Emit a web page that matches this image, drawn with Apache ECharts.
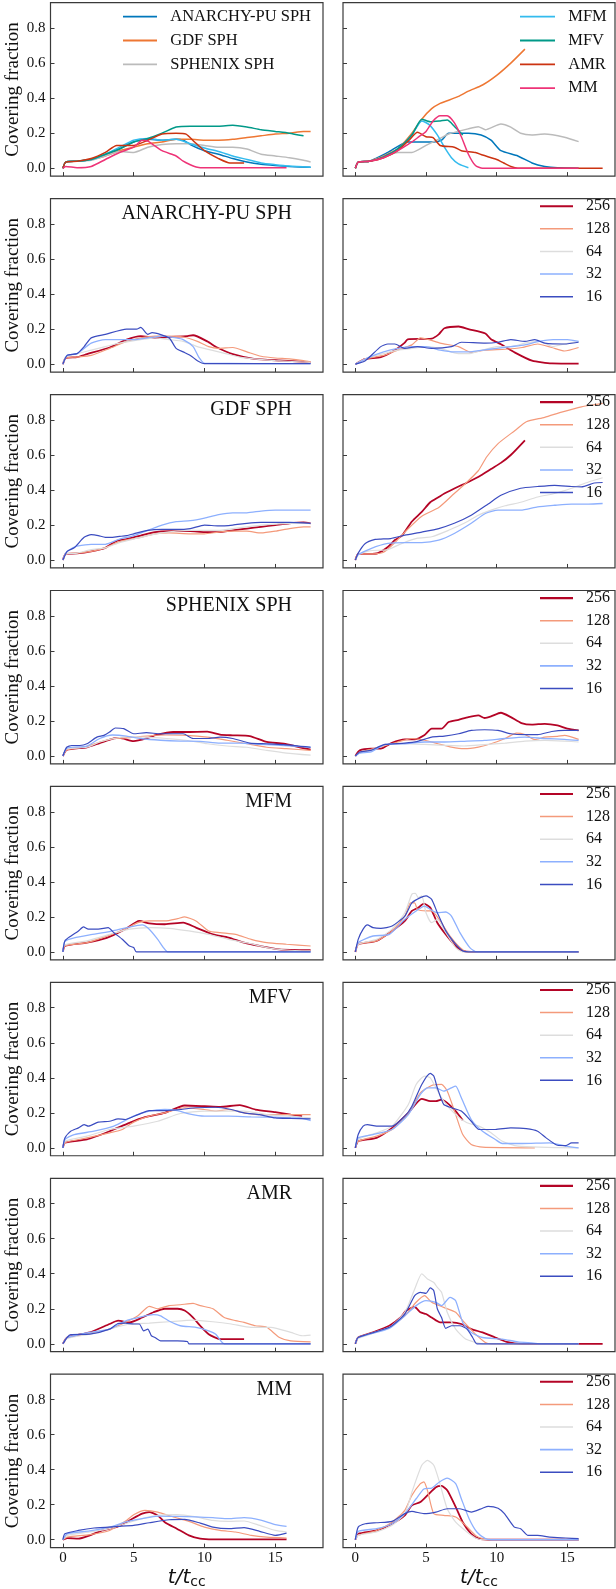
<!DOCTYPE html>
<html>
<head>
<meta charset="utf-8">
<script src="https://cdn.jsdelivr.net/npm/echarts@6/dist/echarts.min.js"></script>
<style>
  html, body { margin: 0; padding: 0; background: #fff; }
  #chart { width: 616px; height: 1589px; }
</style>
</head>
<body>
<div id="chart"></div>
<script>
// ---- labels / ticks ----
const methods = ['ANARCHY-PU SPH', 'GDF SPH', 'SPHENIX SPH', 'MFM', 'MFV', 'AMR', 'MM'];
const methodColors = ['#0077BB', '#EE7733', '#BBBBBB', '#33BBEE', '#009988', '#CC3311', '#EE3377'];
const resolutions = ['256', '128', '64', '32', '16'];
const resColors = ['#B40426', '#F49A7B', '#DDDDDD', '#8DB0FE', '#3B4CC0'];
const resWidths = [1.8, 1.2, 1.2, 1.3, 1.2];
const xTicks = [0, 5, 10, 15];
const yTicks = [0, 0.2, 0.4, 0.6, 0.8];

// ---- top row: all methods, highest resolution ----
const topL = [
  [[0,0],[0.2,0.035],[1,0.04],[2,0.05],[3,0.075],[4,0.11],[5,0.15],[6,0.165],[7,0.16],[8,0.165],[8.5,0.16],[9,0.135],[10,0.1],[11,0.08],[12,0.055],[13,0.035],[14,0.022],[15,0.015],[16,0.01],[17.5,0.005]],
  [[0,0],[0.2,0.035],[1,0.04],[2,0.05],[3,0.07],[4,0.1],[5,0.12],[6,0.14],[7,0.15],[8,0.165],[9,0.165],[10,0.16],[11,0.16],[12,0.165],[13,0.175],[14,0.185],[15,0.195],[16,0.2],[17,0.21],[17.5,0.21]],
  [[0,0],[0.2,0.035],[1,0.04],[2,0.045],[3,0.07],[4,0.095],[5,0.09],[6,0.12],[7,0.135],[8,0.14],[9,0.14],[10,0.13],[11,0.12],[12,0.12],[13,0.11],[14,0.08],[15,0.07],[16,0.06],[17,0.045],[17.5,0.035]],
  [[0,0],[0.2,0.035],[1,0.04],[2,0.05],[3,0.08],[4,0.12],[5,0.16],[6,0.17],[7,0.16],[8,0.165],[9,0.14],[10,0.115],[11,0.095],[12,0.07],[13,0.05],[14,0.03],[15,0.02],[16,0.012],[17.5,0.005]],
  [[0,0],[0.2,0.035],[1,0.04],[2,0.05],[3,0.08],[4,0.11],[5,0.15],[6,0.17],[7,0.2],[8,0.235],[9,0.24],[10,0.24],[11,0.24],[12,0.245],[13,0.235],[14,0.22],[15,0.21],[16,0.2],[17,0.185]],
  [[0,0],[0.2,0.035],[1,0.04],[2,0.055],[3,0.09],[3.8,0.13],[5,0.13],[6,0.16],[7,0.195],[8,0.2],[8.7,0.195],[9.3,0.15],[10,0.1],[11,0.055],[11.8,0.03],[12.8,0.03]],
  [[0,0],[0.2,0.01],[1,0.003],[2,0.01],[3,0.05],[4,0.09],[5,0.12],[5.6,0.16],[6,0.155],[7,0.1],[8,0.07],[8.5,0.04],[9,0.02],[9.5,0.005],[10,0.002],[15.8,0.002]]
];
const topR = [
  [[0,0],[0.2,0.035],[1,0.04],[2.3,0.09],[3.7,0.15],[4.7,0.15],[5.5,0.15],[6.1,0.16],[6.6,0.2],[8,0.2],[8.9,0.19],[9.6,0.16],[10.3,0.1],[11.5,0.07],[12.5,0.03],[13.4,0.01],[14.3,0.002],[15.8,0]],
  [[0,0],[0.2,0.035],[1,0.04],[2,0.07],[3,0.11],[4,0.2],[4.7,0.28],[5.4,0.34],[6,0.37],[6.5,0.385],[7.3,0.41],[8,0.44],[9,0.475],[10,0.53],[11,0.6],[12,0.68]],
  [[0,0],[0.2,0.035],[1,0.04],[2,0.065],[3,0.09],[4,0.09],[5,0.13],[6,0.17],[6.6,0.195],[8,0.225],[8.7,0.237],[9.2,0.22],[10.3,0.253],[11,0.235],[11.7,0.2],[12.5,0.19],[13.4,0.195],[14.8,0.177],[15.8,0.152]],
  [[0,0],[0.2,0.035],[1,0.04],[2,0.065],[3,0.11],[4,0.19],[4.7,0.27],[5.2,0.25],[5.8,0.19],[6.3,0.12],[6.8,0.06],[7.3,0.025],[8,0.003]],
  [[0,0],[0.2,0.035],[1,0.04],[2,0.065],[3,0.11],[4,0.19],[4.7,0.28],[5.3,0.265],[6,0.27],[6.5,0.275],[7,0.24],[7.6,0.19]],
  [[0,0],[0.2,0.035],[1,0.04],[2,0.06],[3,0.1],[3.8,0.16],[4.4,0.205],[5,0.18],[5.5,0.175],[6,0.13],[7,0.12],[7.5,0.1],[8.5,0.09],[9,0.075],[10,0.05],[10.5,0.03],[11,0.01],[11.5,0],[17.5,0]],
  [[0,0],[0.2,0.035],[1,0.04],[2,0.06],[3,0.1],[4,0.15],[4.5,0.18],[5,0.21],[5.5,0.27],[6,0.3],[6.5,0.3],[7,0.26],[7.5,0.18],[8,0.08],[8.5,0.015],[9,0],[15.8,0]]
];

// ---- per method: resolutions 256, 128, 64, 32, 16 ----
const anarchyL = [
  [[0,0],[0.2,0.035],[1,0.04],[1.7,0.057],[3.3,0.095],[4.5,0.14],[5.5,0.16],[6.6,0.15],[7.5,0.155],[8.8,0.16],[9.2,0.165],[10.2,0.13],[10.9,0.095],[12,0.057],[13.5,0.03],[15.6,0.02],[17.5,0.01]],
  [[0,0],[0.2,0.035],[1,0.04],[2,0.05],[3.3,0.09],[4.5,0.13],[5.5,0.15],[6.5,0.16],[7.5,0.16],[8.5,0.155],[9.5,0.13],[10.3,0.1],[11,0.09],[12,0.095],[13,0.07],[14,0.045],[15,0.035],[16,0.03],[17,0.02],[17.5,0.012]],
  [[0,0],[0.2,0.04],[1,0.06],[2,0.08],[3,0.1],[4,0.12],[5.5,0.14],[6.5,0.15],[7.5,0.14],[8.5,0.13],[9.5,0.1],[10.5,0.08],[11.5,0.06],[12.5,0.04],[13.5,0.03],[15,0.02],[17.5,0.01]],
  [[0,0],[0.3,0.05],[1,0.06],[2,0.12],[3,0.14],[4,0.14],[5,0.14],[6,0.15],[7,0.16],[8,0.15],[8.5,0.14],[9.2,0.1],[9.6,0.04],[10,0.005],[17.5,0.003]],
  [[0,0],[0.3,0.05],[1,0.06],[1.5,0.1],[2,0.15],[3,0.17],[4.5,0.2],[5.2,0.2],[5.5,0.21],[6,0.17],[6.3,0.18],[7.5,0.15],[8,0.09],[8.5,0.07],[9,0.05],[9.5,0.02],[10,0.003],[17.5,0.003]]
];
const anarchyR = [
  [[0,0],[0.7,0.03],[1.8,0.04],[2.7,0.075],[3.5,0.123],[3.7,0.142],[5.4,0.146],[5.9,0.17],[6.3,0.205],[7.3,0.215],[8,0.2],[9.2,0.175],[9.6,0.142],[10.3,0.114],[11.3,0.066],[12.5,0.02],[13.9,0.004],[15.8,0.003]],
  [[0,0],[0.7,0.03],[2,0.05],[3,0.08],[4,0.11],[4.6,0.15],[5.2,0.14],[6,0.12],[7.3,0.1],[8.2,0.067],[9.2,0.08],[10.6,0.085],[11.8,0.095],[12.9,0.115],[13.9,0.095],[14.8,0.075],[15.8,0.095]],
  [[0,0],[1,0.04],[2,0.06],[3,0.08],[4,0.09],[5,0.1],[6,0.09],[7.3,0.06],[8,0.06],[9,0.08],[10,0.1],[11,0.1],[12,0.12],[13,0.13],[14,0.1],[14.5,0.11],[15.8,0.13]],
  [[0,0],[1,0.04],[2,0.07],[3,0.09],[4,0.1],[5,0.1],[6,0.08],[7,0.07],[8,0.07],[9,0.08],[10,0.09],[11,0.1],[12,0.11],[13,0.13],[14,0.14],[15,0.14],[15.8,0.13]],
  [[0,0],[0.7,0.02],[1.8,0.1],[2.3,0.115],[2.8,0.115],[3.5,0.09],[4.4,0.1],[5.4,0.09],[6.8,0.1],[7.5,0.125],[9.2,0.12],[10.1,0.125],[11,0.14],[12,0.13],[12.7,0.14],[13.4,0.12],[14.8,0.115],[15.8,0.125]]
];
const gdfL = [
  [[0,0],[0.2,0.035],[1,0.038],[2,0.05],[3,0.07],[3.8,0.11],[4.5,0.12],[5.5,0.14],[6.5,0.16],[7.5,0.165],[9,0.165],[10,0.16],[11,0.16],[12,0.17],[13,0.18],[14,0.19],[15,0.2],[16,0.21],[17,0.215],[17.5,0.21]],
  [[0,0],[0.2,0.035],[1,0.04],[2,0.05],[3,0.07],[3.8,0.1],[4.5,0.115],[5.5,0.13],[6.5,0.15],[7.5,0.155],[9,0.15],[10,0.15],[11,0.16],[12,0.165],[13,0.165],[14,0.155],[15,0.165],[16,0.18],[17,0.19],[17.5,0.19]],
  [[0,0],[0.2,0.035],[1,0.04],[2,0.06],[3,0.07],[4,0.1],[5,0.12],[6,0.14],[7,0.155],[8,0.165],[9,0.17],[10,0.17],[11,0.17],[12,0.18],[13,0.19],[14,0.2],[15,0.205],[16,0.21],[17.5,0.21]],
  [[0,0],[0.2,0.04],[0.7,0.07],[1,0.08],[2,0.09],[3,0.09],[4,0.12],[5,0.14],[6,0.17],[7,0.2],[8,0.22],[9,0.225],[10,0.24],[11,0.26],[12,0.27],[13,0.27],[14,0.28],[15,0.285],[16,0.285],[17.5,0.285]],
  [[0,0],[0.3,0.05],[0.8,0.07],[1.5,0.13],[2,0.145],[2.5,0.14],[3,0.13],[3.5,0.13],[4,0.135],[4.5,0.14],[5,0.15],[6,0.17],[7,0.175],[8,0.175],[9,0.18],[10,0.2],[11,0.195],[12,0.2],[13,0.21],[14,0.215],[15,0.215],[16,0.215],[17.5,0.21]]
];
const gdfR = [
  [[0,0],[0.2,0.035],[1,0.035],[1.6,0.04],[2.3,0.075],[2.8,0.115],[3.3,0.14],[4,0.22],[4.7,0.275],[5.3,0.33],[5.9,0.36],[6.3,0.38],[7.3,0.42],[8,0.446],[8.9,0.484],[9.6,0.52],[10.3,0.555],[11,0.6],[12,0.684]],
  [[0,0],[0.2,0.035],[1,0.035],[2,0.045],[2.8,0.1],[3.5,0.16],[4.7,0.25],[5.9,0.3],[7,0.38],[7.7,0.43],[8.7,0.51],[9.3,0.59],[10.1,0.665],[11.3,0.74],[12.1,0.79],[13.4,0.815],[14.6,0.845],[16,0.875],[17.2,0.89],[17.5,0.895]],
  [[0,0],[0.2,0.03],[1,0.053],[2.3,0.06],[3.3,0.095],[4.4,0.125],[5.4,0.133],[6.6,0.17],[7.7,0.21],[8.7,0.256],[9.6,0.285],[10.6,0.31],[11.7,0.33],[12.9,0.36],[14.1,0.38],[15.3,0.41],[16.5,0.446],[17.5,0.47]],
  [[0,0],[0.2,0.03],[1.1,0.066],[2.3,0.095],[3.5,0.1],[4.7,0.1],[5.9,0.114],[7,0.152],[8.2,0.21],[9.2,0.266],[10.1,0.285],[11.7,0.285],[12.9,0.304],[14.1,0.313],[15.3,0.32],[16.5,0.32],[17.5,0.323]],
  [[0,0],[0.2,0.04],[0.7,0.095],[1.4,0.118],[1.8,0.12],[2.5,0.123],[3.5,0.142],[4.7,0.16],[5.9,0.18],[7,0.21],[8.2,0.256],[9.4,0.32],[10.3,0.37],[11.7,0.41],[12.9,0.42],[14.1,0.427],[15.3,0.42],[16,0.418],[16.9,0.44],[17.5,0.443]]
];
const sphenixL = [
  [[0,0],[0.27,0.035],[1.7,0.05],[2.6,0.074],[3.6,0.1],[4,0.103],[5,0.085],[5.9,0.1],[6.6,0.12],[7.8,0.137],[8.7,0.137],[10.2,0.139],[11.1,0.122],[12,0.118],[13.2,0.114],[14.4,0.08],[15.6,0.07],[17.5,0.036]],
  [[0,0],[0.27,0.035],[1.7,0.055],[2.6,0.08],[3.6,0.1],[4.5,0.103],[5.9,0.114],[7.3,0.12],[8.7,0.118],[10.2,0.108],[11.6,0.09],[13,0.07],[14.4,0.05],[15.8,0.042],[17.5,0.032]],
  [[0,0],[0.27,0.04],[1.7,0.05],[2.6,0.08],[3.6,0.1],[4.5,0.11],[5.9,0.108],[7.3,0.1],[8.7,0.09],[10.2,0.07],[11.6,0.057],[13,0.05],[14.4,0.032],[15.8,0.017],[17.5,0.005]],
  [[0,0],[0.27,0.045],[1.7,0.057],[2.6,0.1],[3.5,0.12],[4.5,0.114],[5.5,0.1],[6.9,0.09],[8.3,0.085],[9.7,0.084],[11.1,0.074],[12.5,0.074],[13.9,0.066],[15.6,0.06],[17.5,0.05]],
  [[0,0],[0.27,0.05],[0.62,0.06],[1.2,0.06],[1.7,0.07],[2.4,0.108],[2.9,0.118],[3.3,0.137],[3.7,0.16],[4.3,0.156],[5,0.127],[5.9,0.133],[6.9,0.127],[8.5,0.127],[9.2,0.1],[10.2,0.1],[11.1,0.108],[12,0.1],[13.2,0.074],[14.4,0.07],[15.6,0.065],[17.5,0.05]]
];
const sphenixR = [
  [[0,0],[0.31,0.032],[1.1,0.042],[1.8,0.042],[2.55,0.074],[3.5,0.095],[4.2,0.095],[4.9,0.12],[5.4,0.156],[6.1,0.156],[6.6,0.194],[7.3,0.207],[8,0.222],[8.7,0.232],[9.15,0.217],[9.6,0.226],[10.3,0.247],[11,0.222],[11.75,0.188],[12.5,0.179],[13.4,0.184],[14.3,0.175],[15,0.156],[15.8,0.146]],
  [[0,0],[0.31,0.022],[1.1,0.038],[2.1,0.06],[3,0.08],[4,0.1],[4.9,0.09],[5.85,0.07],[6.8,0.051],[7.7,0.042],[8.7,0.051],[9.6,0.07],[10.6,0.1],[11.4,0.131],[12,0.123],[12.7,0.093],[13.4,0.108],[14.3,0.112],[14.8,0.118],[15.8,0.095]],
  [[0,0],[0.31,0.017],[1.1,0.032],[2.1,0.063],[3.5,0.07],[4.9,0.066],[6.3,0.061],[7.7,0.057],[9.15,0.065],[10.6,0.074],[12,0.085],[13.4,0.089],[14.8,0.085],[15.8,0.08]],
  [[0,0],[0.31,0.017],[1.1,0.023],[2.1,0.066],[3.5,0.07],[4.9,0.08],[6.3,0.08],[7.7,0.084],[9.15,0.089],[10.6,0.1],[12,0.108],[13.4,0.1],[14.8,0.095],[15.8,0.089]],
  [[0,0],[0.31,0.023],[1.1,0.032],[1.6,0.051],[2.1,0.066],[3.5,0.074],[4.4,0.084],[5.4,0.108],[6.3,0.114],[7.3,0.127],[8.2,0.146],[9.15,0.15],[10.1,0.146],[11,0.127],[12,0.122],[12.9,0.122],[13.9,0.14],[14.8,0.146],[15.8,0.146]]
];
const mfmL = [
  [[0,0],[0.14,0.035],[1.7,0.053],[3.1,0.08],[4.4,0.13],[5.4,0.177],[6.1,0.163],[7.2,0.158],[8.5,0.167],[9.4,0.139],[10.6,0.1],[11.7,0.082],[12.8,0.053],[13.9,0.034],[15.3,0.015],[17.5,0.01]],
  [[0,0],[0.14,0.035],[1.7,0.053],[3.1,0.09],[4.4,0.13],[5.3,0.167],[6.1,0.177],[7.2,0.177],[8.1,0.19],[8.6,0.2],[9.4,0.177],[10.3,0.12],[11.1,0.11],[12.2,0.1],[13.3,0.072],[14.4,0.053],[15.8,0.044],[17.5,0.034]],
  [[0,0],[0.14,0.04],[1.7,0.063],[3.3,0.1],[4.7,0.13],[6.1,0.139],[7.5,0.135],[8.9,0.12],[10.3,0.1],[11.7,0.072],[13.1,0.05],[14.4,0.025],[15.8,0.011],[17.5,0.006]],
  [[0,0],[0.14,0.06],[0.8,0.08],[1.9,0.097],[3.3,0.116],[4.7,0.142],[5.6,0.154],[6.1,0.13],[6.7,0.072],[7.1,0.025],[7.4,0],[17.5,0]],
  [[0,0],[0.14,0.063],[0.55,0.09],[1.1,0.12],[1.45,0.143],[1.8,0.13],[2.5,0.13],[3.2,0.139],[3.6,0.11],[4.2,0.072],[4.7,0.034],[5,0.025],[5.2,0],[17.5,0]]
];
const mfmR = [
  [[0,0],[0.2,0.044],[1.5,0.063],[2.6,0.12],[3.5,0.177],[4,0.234],[4.45,0.253],[4.85,0.276],[5.3,0.253],[5.8,0.167],[6.4,0.1],[7.1,0.034],[7.6,0.006],[8.2,0],[15.8,0]],
  [[0,0],[0.2,0.044],[1.5,0.063],[2.6,0.12],[3.5,0.205],[3.9,0.28],[4.2,0.28],[4.4,0.243],[5,0.234],[5.4,0.234],[6,0.177],[6.7,0.09],[7.4,0.025],[7.9,0],[15.8,0]],
  [[0,0],[0.2,0.044],[1.5,0.072],[2.6,0.13],[3.5,0.224],[4,0.33],[4.25,0.335],[4.45,0.31],[4.7,0.32],[5,0.224],[5.4,0.167],[5.8,0.186],[6.4,0.11],[7.1,0.025],[7.6,0],[15.8,0]],
  [[0,0],[0.2,0.053],[1.25,0.091],[2.4,0.1],[3.5,0.186],[4.3,0.234],[4.9,0.262],[5.4,0.238],[5.8,0.224],[6.4,0.228],[6.8,0.205],[7.4,0.11],[8.1,0.025],[8.6,0],[15.8,0]],
  [[0,0],[0.2,0.072],[0.55,0.13],[0.85,0.154],[1.25,0.139],[1.8,0.135],[2.6,0.148],[3.5,0.205],[4,0.28],[4.6,0.31],[5,0.32],[5.4,0.3],[5.8,0.224],[6.4,0.12],[7.1,0.044],[7.6,0.006],[8.2,0],[15.8,0]]
];
const mfvL = [
  [[0,0],[0.14,0.03],[1.7,0.048],[3.3,0.095],[4.7,0.143],[5.8,0.175],[7.2,0.2],[8.6,0.242],[10,0.238],[11.1,0.234],[12.5,0.244],[13.6,0.219],[15,0.204],[16.1,0.19],[16.9,0.181]],
  [[0,0],[0.14,0.03],[1.7,0.057],[3.3,0.086],[4.2,0.105],[5,0.147],[6.1,0.181],[7.2,0.2],[8.6,0.229],[10,0.219],[10.8,0.21],[11.7,0.219],[12.8,0.2],[13.9,0.19],[15,0.19],[17.5,0.19]],
  [[0,0],[0.14,0.038],[1.7,0.067],[3.3,0.105],[5,0.124],[6.7,0.152],[8.3,0.196],[10,0.21],[11.1,0.21],[12.8,0.21],[14.4,0.19],[16.1,0.181],[17.5,0.171]],
  [[0,0],[0.14,0.048],[0.8,0.076],[2.2,0.095],[3.6,0.124],[5,0.181],[6.1,0.21],[7.2,0.219],[8.1,0.213],[8.9,0.194],[10,0.181],[11.7,0.181],[13.3,0.177],[15,0.175],[16.7,0.171],[17.5,0.156]],
  [[0,0],[0.14,0.057],[0.55,0.095],[1.1,0.114],[1.5,0.133],[1.8,0.124],[2.5,0.147],[3.3,0.152],[3.9,0.166],[4.4,0.162],[5.3,0.19],[6.1,0.213],[7.2,0.213],[8.3,0.219],[9.4,0.229],[10.8,0.232],[11.9,0.219],[12.8,0.2],[13.9,0.19],[15,0.171],[16.1,0.168],[17.5,0.166]]
];
const mfvR = [
  [[0,0],[0.2,0.038],[1.5,0.057],[2.6,0.114],[3.75,0.2],[4.7,0.28],[5.3,0.267],[5.7,0.267],[6.1,0.276],[6.5,0.257],[7.1,0.21],[7.6,0.158]],
  [[0,0],[0.2,0.038],[1.5,0.067],[2.6,0.105],[3.75,0.2],[4.6,0.314],[5.4,0.356],[6.1,0.362],[6.5,0.324],[7.1,0.19],[7.6,0.076],[8.2,0.019],[9,0.004],[12.7,0]],
  [[0,0],[0.2,0.048],[1.5,0.086],[2.6,0.124],[3.75,0.248],[4.3,0.362],[4.9,0.41],[5.3,0.4],[5.7,0.343],[6.25,0.267],[7.1,0.19],[7.9,0.143],[8.75,0.124],[9.6,0.086],[10.4,0.038],[11.5,0.01],[15.8,0]],
  [[0,0],[0.2,0.057],[1.25,0.076],[2.6,0.105],[3.75,0.19],[4.6,0.305],[5.1,0.343],[5.7,0.343],[6.25,0.324],[6.8,0.343],[7.1,0.352],[7.5,0.286],[8.2,0.162],[9,0.095],[9.9,0.048],[10.4,0.025],[11.8,0.025],[13.75,0.029],[14.9,0.01],[15.8,0]],
  [[0,0],[0.2,0.076],[0.55,0.124],[0.85,0.133],[1.5,0.124],[2.6,0.124],[3.5,0.181],[4,0.238],[4.7,0.362],[5.3,0.425],[5.55,0.41],[5.8,0.343],[6.25,0.248],[6.8,0.229],[7.5,0.21],[8.2,0.152],[8.75,0.105],[9.9,0.105],[11,0.114],[12.1,0.11],[12.9,0.095],[13.5,0.057],[14.3,0.015],[14.9,0.013],[15.3,0.029],[15.8,0.029]]
];
const amrL = [
  [[0,0],[0.3,0.036],[1.9,0.065],[3.3,0.113],[3.9,0.132],[4.7,0.122],[5.6,0.15],[6.4,0.18],[7.2,0.2],[8.1,0.2],[8.6,0.19],[9.2,0.15],[9.7,0.103],[10.3,0.055],[11.1,0.027],[12.8,0.027]],
  [[0,0],[0.3,0.036],[1.9,0.061],[3.3,0.084],[4.4,0.122],[5.3,0.16],[6.1,0.214],[6.7,0.2],[7.5,0.218],[8.3,0.223],[9.2,0.231],[9.7,0.218],[10.6,0.2],[11.4,0.15],[12.2,0.132],[12.8,0.122],[13.6,0.103],[14.4,0.094],[15.3,0.036],[16.1,0.017],[17.5,0.011]],
  [[0,0],[0.3,0.03],[1.9,0.055],[3.3,0.084],[4.7,0.113],[6.1,0.118],[7.5,0.126],[9.2,0.135],[10.6,0.126],[11.9,0.113],[13.3,0.094],[14.7,0.094],[16.1,0.065],[16.9,0.046],[17.5,0.05]],
  [[0,0],[0.3,0.036],[1.9,0.065],[3.3,0.084],[4.4,0.13],[5.6,0.155],[6.4,0.166],[6.9,0.16],[7.5,0.13],[8.3,0.103],[9.4,0.094],[10.3,0.074],[10.8,0.055],[11.4,0],[17.5,0]],
  [[0,0],[0.3,0.036],[0.55,0.052],[1.9,0.055],[3.3,0.084],[3.9,0.116],[4.4,0.118],[5,0.113],[5.4,0.113],[5.7,0.074],[6,0.084],[6.25,0.046],[6.5,0.036],[6.9,0.017],[8.1,0.017],[8.8,0.013],[8.9,0],[17.5,0]]
];
const amrR = [
  [[0,0],[0.2,0.036],[1.25,0.065],[2.4,0.103],[3.2,0.15],[3.6,0.19],[4.2,0.21],[4.6,0.18],[5,0.17],[5.4,0.15],[6,0.122],[6.8,0.122],[7.5,0.113],[8.2,0.084],[9,0.065],[9.9,0.036],[10.7,0.011],[11.8,0],[17.5,0]],
  [[0,0],[0.2,0.036],[2.4,0.094],[3.5,0.16],[4.3,0.237],[4.9,0.275],[5.4,0.237],[6.25,0.208],[7.1,0.18],[7.6,0.132],[8.5,0.055],[9.2,0.008],[9.6,0],[15.8,0]],
  [[0,0],[0.2,0.03],[2.4,0.094],[3.5,0.18],[4.2,0.313],[4.7,0.4],[5.1,0.37],[5.55,0.35],[5.8,0.322],[6.1,0.294],[6.5,0.18],[7.1,0.084],[7.8,0.027],[8.5,0.008],[9,0],[15.8,0]],
  [[0,0],[0.2,0.036],[2.4,0.088],[3.5,0.16],[4.3,0.218],[5,0.246],[5.7,0.237],[6.1,0.218],[6.7,0.265],[7.1,0.246],[7.6,0.122],[8.2,0.065],[9,0.036],[10.4,0.027],[11.5,0.011],[12.6,0.004],[13,0],[15.8,0]],
  [[0,0],[0.2,0.036],[2.4,0.094],[3.5,0.17],[4.2,0.275],[4.6,0.294],[5,0.288],[5.3,0.319],[5.55,0.303],[5.8,0.2],[6.1,0.15],[6.4,0.088],[6.8,0.103],[7.4,0.103],[7.9,0.084],[8.3,0.036],[8.6,0],[15.8,0]]
];
const mmL = [
  [[0,0],[0.3,0.01],[1.1,0.006],[1.9,0.025],[2.8,0.053],[3.9,0.076],[4.7,0.11],[5.6,0.149],[6.1,0.158],[6.7,0.139],[7.2,0.1],[8.05,0.063],[8.9,0.025],[9.7,0.006],[10.6,0.002],[15.8,0.002]],
  [[0,0],[0.3,0.015],[1.9,0.029],[3.3,0.053],[4.4,0.105],[5,0.143],[5.8,0.168],[6.7,0.158],[7.8,0.13],[8.9,0.105],[10,0.072],[11.1,0.053],[12.2,0.044],[13.3,0.025],[14.4,0.015],[15.8,0.01]],
  [[0,0],[0.3,0.025],[1.9,0.044],[3.3,0.063],[4.4,0.091],[5.6,0.12],[6.7,0.139],[8.05,0.143],[9.4,0.13],[10.6,0.11],[11.7,0.105],[12.8,0.107],[13.9,0.082],[15,0.053],[15.8,0.044]],
  [[0,0],[0.3,0.034],[1.9,0.05],[3.3,0.072],[4.4,0.1],[5.6,0.12],[6.7,0.135],[8.05,0.133],[9.4,0.13],[10.6,0.126],[11.7,0.12],[12.8,0.126],[13.9,0.114],[15,0.086],[15.8,0.076]],
  [[0,0],[0.14,0.034],[1.1,0.053],[2.2,0.067],[3.9,0.076],[5,0.082],[6.1,0.097],[7.5,0.114],[8.6,0.116],[9.7,0.095],[10.6,0.072],[11.7,0.063],[12.8,0.069],[13.9,0.048],[15,0.025],[15.8,0.038]]
];
const mmR = [
  [[0,0],[0.2,0.034],[1.5,0.053],[2.6,0.091],[3.5,0.139],[4,0.196],[4.6,0.215],[5.1,0.253],[5.7,0.3],[6.1,0.307],[6.5,0.282],[7.1,0.187],[7.6,0.1],[8.2,0.034],[8.75,0.006],[9.5,0],[15.8,0]],
  [[0,0],[0.2,0.025],[1.5,0.053],[2.6,0.1],[3.5,0.168],[4,0.253],[4.6,0.32],[4.85,0.33],[5.1,0.282],[5.55,0.149],[6.25,0.139],[7.1,0.13],[7.8,0.082],[8.5,0.025],[9,0.006],[9.5,0],[15.8,0]],
  [[0,0],[0.2,0.025],[1.5,0.044],[2.6,0.082],[3.5,0.149],[4,0.272],[4.7,0.425],[5.1,0.453],[5.55,0.425],[5.95,0.33],[6.5,0.177],[7.1,0.1],[7.9,0.044],[8.5,0.01],[9,0],[15.8,0]],
  [[0,0],[0.2,0.048],[1.5,0.063],[2.6,0.091],[3.5,0.149],[4.3,0.234],[4.85,0.29],[5.4,0.295],[5.95,0.33],[6.5,0.352],[7.1,0.32],[7.5,0.234],[8.05,0.12],[8.6,0.044],[9.2,0.006],[9.6,0],[15.8,0]],
  [[0,0],[0.2,0.072],[0.7,0.091],[1.5,0.097],[2.6,0.105],[3.5,0.149],[4,0.162],[4.85,0.149],[5.7,0.158],[6.5,0.177],[7.4,0.177],[8.2,0.158],[9,0.18],[9.4,0.19],[10.1,0.18],[10.55,0.149],[11.25,0.072],[11.7,0.063],[12.2,0.025],[12.9,0.025],[13.75,0.015],[14.9,0.01],[15.8,0.006]]
];

const rows = [
  [topL, topR],
  [anarchyL, anarchyR],
  [gdfL, gdfR],
  [sphenixL, sphenixR],
  [mfmL, mfmR],
  [mfvL, mfvR],
  [amrL, amrR],
  [mmL, mmR]
];

// ---- layout ----
const SERIF = 'Liberation Serif';
const FRAME = '#3a3a3a';
const rowTop = r => 2.7 + 195.93 * r;
const colLeft = [50.5, 343];
const panelW = [272.5, 272];
const panelH = 173.4;
const lastRow = rows.length - 1;

// plain line as legend icon (thickness = line width)
const lineIcon = (len, w) => 'path://M0,0H' + len + 'V' + w + 'H0Z';

const grids = [], xAxes = [], yAxes = [], series = [], legends = [], titles = [];

rows.forEach((row, r) => {
  row.forEach((panel, c) => {
    const gi = grids.length;
    grids.push({
      left: colLeft[c], top: rowTop(r), width: panelW[c], height: panelH,
      show: true, borderColor: FRAME, borderWidth: 1.2,
      containLabel: false, outerBoundsMode: 'none'
    });
    xAxes.push({
      type: 'value', gridIndex: gi, min: -0.875, max: 18.375,
      axisLine: { show: false, onZero: false }, splitLine: { show: false },
      axisTick: { show: true, inside: true, length: 4, lineStyle: { color: FRAME, width: 1 }, customValues: xTicks },
      axisLabel: { show: r === lastRow, customValues: xTicks, margin: 3, fontSize: 15, fontFamily: SERIF, color: '#111' },
      name: r === lastRow ? '{i|t/t}{s|cc}' : '',
      nameLocation: 'middle', nameGap: 19,
      nameTextStyle: {
        rich: {
          i: { fontFamily: 'DejaVu Sans', fontStyle: 'italic', fontSize: 20, color: '#111' },
          s: { fontFamily: 'DejaVu Sans', fontSize: 14, color: '#111', padding: [9, 0, 0, 0] }
        }
      }
    });
    yAxes.push({
      type: 'value', gridIndex: gi, min: -0.045, max: 0.945,
      axisLine: { show: false, onZero: false }, splitLine: { show: false },
      axisTick: { show: true, inside: true, length: 4, lineStyle: { color: FRAME, width: 1 }, customValues: yTicks },
      axisLabel: { show: c === 0, customValues: yTicks, margin: 5, fontSize: 15, fontFamily: SERIF, color: '#111',
        formatter: v => v.toFixed(1) },
      name: c === 0 ? 'Covering fraction' : '',
      nameLocation: 'middle', nameGap: 21, nameRotate: 90,
      nameTextStyle: { fontFamily: SERIF, fontSize: 19, color: '#111' }
    });

    const isTop = r === 0;
    panel.forEach((data, k) => {
      series.push({
        type: 'line', name: isTop ? methods[k] : resolutions[k],
        xAxisIndex: gi, yAxisIndex: gi, data,
        symbol: 'none', showSymbol: false, smooth: 0.2, clip: true,
        color: isTop ? methodColors[k] : resColors[k],
        lineStyle: { width: isTop ? 1.5 : resWidths[k], color: isTop ? methodColors[k] : resColors[k] },
        emphasis: { disabled: true }, animation: false
      });
    });
  });

  if (r > 0) {
    titles.push({
      text: methods[r - 1], right: 616 - 292, top: rowTop(r) + 5.5, padding: 0,
      textStyle: { fontFamily: SERIF, fontSize: 20, fontWeight: 'normal', color: '#111', lineHeight: 20 }
    });
    legends.push({
      data: resolutions.map((n, k) => ({ name: n, icon: lineIcon(33, resWidths[k] + 0.3) })),
      orient: 'vertical', left: 540, top: rowTop(r) - 0.4,
      itemWidth: 33, itemHeight: 14, itemGap: 6.6, padding: 0, symbolKeepAspect: true,
      selectedMode: false, formatter: n => '\u2002' + n,
      textStyle: { fontFamily: SERIF, fontSize: 16, color: '#111', lineHeight: 16 }
    });
  }
});

// top-row legends
legends.push({
  data: methods.slice(0, 3).map(n => ({ name: n, icon: lineIcon(34, 1.8) })),
  orient: 'vertical', left: 123, top: 8.2,
  itemWidth: 34, itemHeight: 14, itemGap: 6.8, padding: 0, symbolKeepAspect: true,
  selectedMode: false, formatter: n => '\u2002' + n,
  textStyle: { fontFamily: SERIF, fontSize: 16.5, color: '#111', lineHeight: 17 }
});
legends.push({
  data: methods.slice(3).map(n => ({ name: n, icon: lineIcon(35, 1.8) })),
  orient: 'vertical', left: 520, top: 8.2,
  itemWidth: 35, itemHeight: 14, itemGap: 6.8, padding: 0, symbolKeepAspect: true,
  selectedMode: false, formatter: n => '\u2002' + n,
  textStyle: { fontFamily: SERIF, fontSize: 16.5, color: '#111', lineHeight: 17 }
});

const chart = echarts.init(document.getElementById('chart'));
chart.setOption({
  animation: false,
  backgroundColor: '#fff',
  title: titles,
  legend: legends,
  grid: grids,
  xAxis: xAxes,
  yAxis: yAxes,
  series
});
</script>
</body>
</html>
